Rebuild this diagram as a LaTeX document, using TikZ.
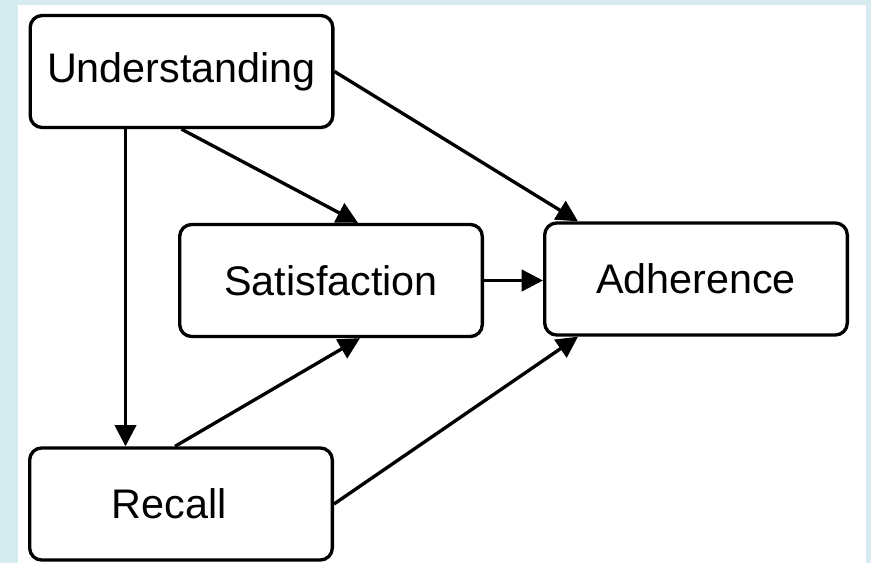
\documentclass[tikz,border=0pt]{standalone}
\usepackage{fontspec}
\setmainfont{Liberation Sans}
\usetikzlibrary{arrows.meta,calc}

\definecolor{frameblue}{RGB}{214,236,240}

\tikzset{every picture/.style={line width=2.5pt}}
\tikzset{
  box/.style={draw,rounded corners=9pt,minimum width=227pt,minimum height=84pt,inner sep=0pt,font=\fontsize{31}{36}\selectfont},
  link/.style={-{Triangle[length=16pt,width=16pt]}}
}

\begin{document}
\begin{tikzpicture}[x=0.75pt,y=0.75pt,yscale=-1,xscale=1]
%set diagram: 871 wide, 563 high
\fill[frameblue] (0,0) rectangle (871,563);
\fill[white] (18,5) rectangle (866,563);
\useasboundingbox (0,0) rectangle (871,563);

% Boxes
\node[box] (und) at (181.5,71.5) {Understanding};
\node[box] (sat) at (331,280.5) {Satisfaction};
\node[box] (adh) at (696,279) {Adherence};
\node[box] (rec) at (181,504) {\hspace*{-18pt}Recall};

% Arrows
\coordinate (udown) at ($(und.south west)+(97,0)$);
\draw[link] (udown) -- (udown |- rec.north);
\draw[link] (und.south) -- ($(sat.north)+(27,0)$);
\draw[link] (und.east) -- ($(adh.north west)+(35,0)$);
\draw[link] (sat.east) -- (sat.east -| adh.west);
\draw[link] ($(rec.north)+(-6,0)$) -- ($(sat.south)+(29,0)$);
\draw[link] (rec.east) -- ($(adh.south west)+(35,0)$);

\end{tikzpicture}
\end{document}
